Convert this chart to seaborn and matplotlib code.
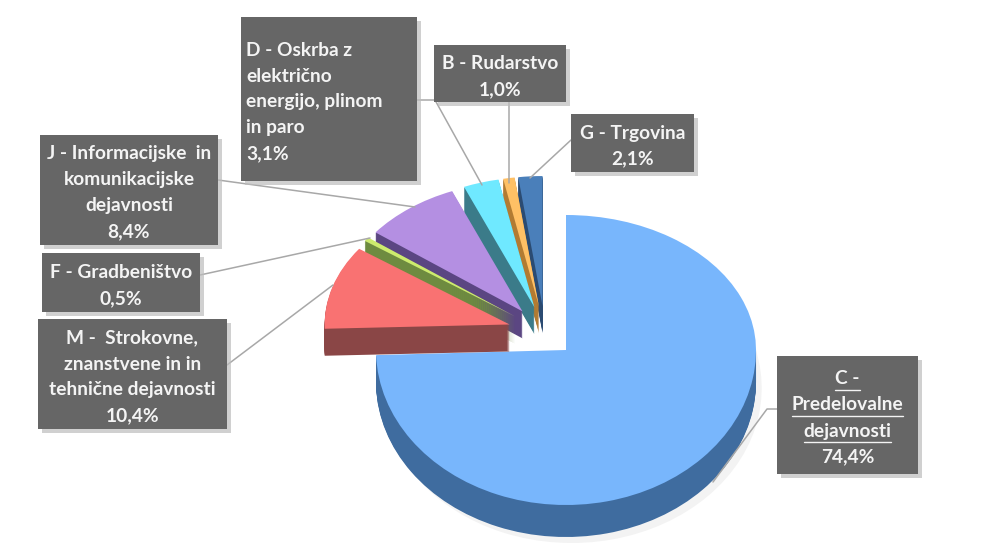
import matplotlib
matplotlib.use('Agg')
import matplotlib.pyplot as plt
from matplotlib.patches import Rectangle
import seaborn as sns

# Chart data
sector_lines = [
    ['C -', 'Predelovalne', 'dejavnosti'],
    ['M -  Strokovne,', 'znanstvene in in', 'tehnične dejavnosti'],
    ['F - Gradbeništvo'],
    ['J - Informacijske  in', 'komunikacijske', 'dejavnosti'],
    ['D - Oskrba z', 'električno', 'energijo, plinom', 'in paro'],
    ['B - Rudarstvo'],
    ['G - Trgovina'],
]
shares = [74.4, 10.4, 0.5, 8.4, 3.1, 1.0, 2.1]
top_colors = ['#78B6FC', '#F97272', '#CDEB6E', '#B48FE2', '#6FE9FF', '#FFC065', '#4A7FBA']
side_colors = ['#3F6C9F', '#8A4646', '#6E8B40', '#5B4682', '#3B7B89', '#B27B32', '#2B4B72']

# Label boxes in pixels: left, top, right, bottom
boxes = [(777, 356, 918, 474), (38, 319, 227, 429), (42, 253, 200, 312),
         (40, 135, 218, 245), (241, 17, 417, 181), (434, 45, 566, 102), (571, 114, 694, 172)]
leader_lines = [
    [(777, 409), (767, 409), (713, 482)],
    [(227, 365), (333, 285)],
    [(200, 275), (370, 238)],
    [(218, 180), (415, 207)],
    [(417, 100), (435, 100), (482, 185)],
    [(509, 102), (509, 183)],
    [(571, 140), (530, 178)],
]

W, H = 994, 551
sns.set_theme(style='white')
plt.rcParams['font.family'] = ['Lato', 'DejaVu Sans']

fig = plt.figure(figsize=(W / 100, H / 100), dpi=100)


def pie_axes(cx, cy, rx, ry, top=0, bottom=H):
    # axes spanning rows top..bottom, scaled so the unit pie becomes an rx by ry ellipse
    ax = fig.add_axes([0, 1 - bottom / H, 1, (bottom - top) / H])
    ax.patch.set_alpha(0)
    return ax, ((0 - cx) / rx, (W - cx) / rx), (-(bottom - cy) / ry, (cy - top) / ry)


def finish(ax, xl, yl):
    ax.set_aspect('auto')
    ax.set_xlim(xl)
    ax.set_ylim(yl)


# Main slice, apart from the others. Perspective: the near half is taller than the far half
main_pair = [shares[0], sum(shares[1:])]
apex_y = 350
depth = 32
clipped = {'linewidth': 0, 'clip_on': True}
near_ax, xl, yl = pie_axes(566, apex_y, 190, 155, top=apex_y)
near_ax.pie(main_pair, colors=['#F3F3F3', 'none'], startangle=90, counterclock=False,
            center=(0.03, -(depth + 6) / 155), wedgeprops=clipped)
for d in range(depth, 0, -1):
    near_ax.pie(main_pair, colors=[side_colors[0], 'none'], startangle=90, counterclock=False,
                center=(0, -d / 155), wedgeprops=clipped)
near_ax.pie(main_pair, colors=[top_colors[0], 'none'], startangle=90, counterclock=False,
            wedgeprops=clipped)
finish(near_ax, xl, yl)

far_ax, xl, yl = pie_axes(566, apex_y, 190, 135, bottom=apex_y)
far_ax.pie(main_pair, colors=[top_colors[0], 'none'], startangle=90, counterclock=False,
           wedgeprops=clipped)
finish(far_ax, xl, yl)

# Exploded slices, drawn from the back forward
group_ax, xl, yl = pie_axes(545, 332, 185, 130)
depth = 27
order = [6, 5, 4, 3, 2, 1]
for i in order:
    cols = ['none'] * 7
    cols[i] = side_colors[i]
    explode = [0] + [0.2] * 6
    for d in range(depth, 0, -1):
        group_ax.pie(shares, colors=cols, startangle=90, counterclock=False, explode=explode,
                     center=(0, -d / 130), wedgeprops={'linewidth': 0})
    cols[i] = top_colors[i]
    group_ax.pie(shares, colors=cols, startangle=90, counterclock=False, explode=explode,
                 wedgeprops={'linewidth': 0})
finish(group_ax, xl, yl)

# Overlay in pixel coordinates for boxes, leaders and text
ax = fig.add_axes([0, 0, 1, 1])
ax.patch.set_alpha(0)
ax.set_xlim(0, W)
ax.set_ylim(H, 0)
ax.axis('off')

for pts in leader_lines:
    ax.plot([p[0] for p in pts], [p[1] for p in pts], color='#A8A8A8', lw=1.1, zorder=2)

line_step = 26
for i, (lines, share, box) in enumerate(zip(sector_lines, shares, boxes)):
    x0, y0, x1, y1 = box
    ax.add_patch(Rectangle((x0 + 4, y0 + 4), x1 - x0, y1 - y0, color='#BDBDBD', alpha=0.7, lw=0, zorder=3))
    ax.add_patch(Rectangle((x0, y0), x1 - x0, y1 - y0, color='#666666', lw=0, zorder=4))
    rows = lines + [f'{share:.1f}%'.replace('.', ',')]
    y_first = (y0 + y1) / 2 - line_step * (len(rows) - 1) / 2 + 3
    left_aligned = i == 4
    for k, row in enumerate(rows):
        tx = ax.text(x0 + 5 if left_aligned else (x0 + x1) / 2, y_first + k * line_step, row,
                     ha='left' if left_aligned else 'center', va='center', color='#F4F4F4',
                     fontsize=13.8, fontweight='bold', zorder=5)
        if i == 0 and k < len(lines):
            fig.canvas.draw()
            ext = tx.get_window_extent().transformed(ax.transData.inverted())
            ax.plot([ext.x0, ext.x1], [y_first + k * line_step + 11] * 2, color='#F4F4F4', lw=1, zorder=5)

fig.savefig('out.png', dpi=100)
